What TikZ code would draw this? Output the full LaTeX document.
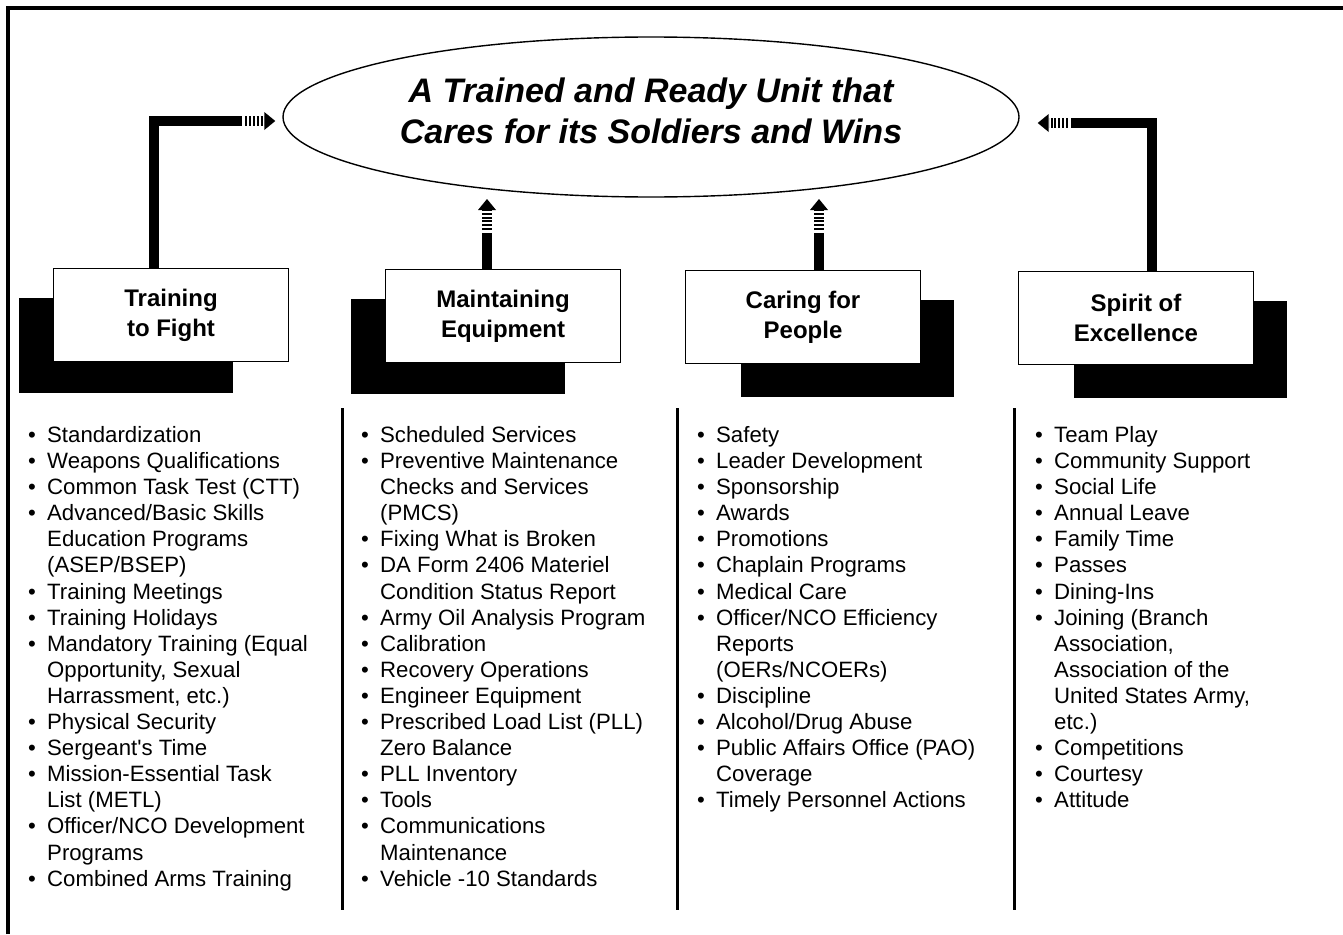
\documentclass[tikz,border=0pt]{standalone}
\usepackage{fontspec}
\setmainfont{Liberation Sans}
\usepackage{tikz}
\usetikzlibrary{arrows.meta,shapes.geometric,backgrounds}

\begin{document}
\begin{tikzpicture}[x=1pt,y=-1pt,
    goal/.style={ellipse,draw,line width=1.4pt,inner sep=0pt,minimum width=736pt,minimum height=160pt},
    title/.style={align=center,inner sep=0pt,font=\fontsize{34}{41}\selectfont\bfseries\itshape},
    pillar/.style={rectangle,draw,line width=1.6pt,fill=white,inner sep=0pt,minimum width=235pt,
      minimum height=93pt,align=center,font=\fontsize{24}{30}\selectfont\bfseries},
    bar/.style={line width=10pt},
    fade/.style={line width=10pt,dash pattern=on 2pt off 1.8pt,-{Triangle[length=11pt,width=18pt,line width=0pt]}},
    list/.style={anchor=north west,inner sep=0pt,font=\fontsize{22.2}{26.1}\selectfont},
    frame/.style={line width=4pt},
    rule/.style={line width=3pt}]

	\useasboundingbox (0,0) rectangle (1343,934);
	\draw[frame] (8,934) -- (8,8) -- (1343,8);

	\node[goal] (goal) at (651,117) {};
	\node[title] (motto) at ([yshift=6pt]goal.center) {A Trained and Ready Unit that\\Cares for its Soldiers and Wins};

	\node[pillar] (train) at (171,315) {Training\\to Fight};
	\node[pillar] (maint) at (503,316) {Maintaining\\Equipment};
	\node[pillar] (care) at (803,317) {Caring for\\People};
	\node[pillar] (spirit) at (1136,318) {Spirit of\\Excellence};

	\begin{scope}[on background layer]
	\fill ([shift={(-34,30)}]train.north west) rectangle ([shift={(-56,31)}]train.south east);
	\fill ([shift={(-34,30)}]maint.north west) rectangle ([shift={(-56,31)}]maint.south east);
	\fill ([shift={(56,30)}]care.north west) rectangle ([shift={(33,33)}]care.south east);
	\fill ([shift={(56,30)}]spirit.north west) rectangle ([shift={(33,33)}]spirit.south east);
	\end{scope}

	\coordinate (tA) at ([xshift=-7pt,yshift=-4pt]goal.west);
	\coordinate (tB) at (487,199);
	\coordinate (tC) at (819,199);
	\coordinate (tD) at ([xshift=18pt,yshift=-6pt]goal.east);

	\draw[bar] ([xshift=-17pt]train.north) |- ([xshift=-33pt]tA);
	\draw[fade] ([xshift=-30pt]tA) -- (tA);
	\draw[bar] (maint.north -| tB) -- ([yshift=-34pt]tB);
	\draw[fade] ([yshift=-31pt]tB) -- (tB);
	\draw[bar] (care.north -| tC) -- ([yshift=-34pt]tC);
	\draw[fade] ([yshift=-31pt]tC) -- (tC);
	\draw[bar] ([xshift=16pt]spirit.north) |- ([xshift=33pt]tD);
	\draw[fade] ([xshift=30pt]tD) -- (tD);

	\draw[rule] (342.5,408) -- (342.5,910);
	\draw[rule] (677.5,408) -- (677.5,910);
	\draw[rule] (1014,408) -- (1014,910);

	\node[list] (l1) at (28,424) {\begin{tabular}{@{}p{19pt}@{}l@{}}
	\textbullet & Standardization\\
	\textbullet & Weapons Qualifications\\
	\textbullet & Common Task Test (CTT)\\
	\textbullet & Advanced/Basic Skills\\
	 & Education Programs\\
	 & (ASEP/BSEP)\\
	\textbullet & Training Meetings\\
	\textbullet & Training Holidays\\
	\textbullet & Mandatory Training (Equal\\
	 & Opportunity, Sexual\\
	 & Harrassment, etc.)\\
	\textbullet & Physical Security\\
	\textbullet & Sergeant\textquotesingle s Time\\
	\textbullet & Mission-Essential Task\\
	 & List (METL)\\
	\textbullet & Officer/NCO Development\\
	 & Programs\\
	\textbullet & Combined Arms Training
	\end{tabular}};

	\node[list] (l2) at (361,424) {\begin{tabular}{@{}p{19pt}@{}l@{}}
	\textbullet & Scheduled Services\\
	\textbullet & Preventive Maintenance\\
	 & Checks and Services\\
	 & (PMCS)\\
	\textbullet & Fixing What is Broken\\
	\textbullet & DA Form 2406 Materiel\\
	 & Condition Status Report\\
	\textbullet & Army Oil Analysis Program\\
	\textbullet & Calibration\\
	\textbullet & Recovery Operations\\
	\textbullet & Engineer Equipment\\
	\textbullet & Prescribed Load List (PLL)\\
	 & Zero Balance\\
	\textbullet & PLL Inventory\\
	\textbullet & Tools\\
	\textbullet & Communications\\
	 & Maintenance\\
	\textbullet & Vehicle -10 Standards
	\end{tabular}};

	\node[list] (l3) at (697,424) {\begin{tabular}{@{}p{19pt}@{}l@{}}
	\textbullet & Safety\\
	\textbullet & Leader Development\\
	\textbullet & Sponsorship\\
	\textbullet & Awards\\
	\textbullet & Promotions\\
	\textbullet & Chaplain Programs\\
	\textbullet & Medical Care\\
	\textbullet & Officer/NCO Efficiency\\
	 & Reports\\
	 & (OERs/NCOERs)\\
	\textbullet & Discipline\\
	\textbullet & Alcohol/Drug Abuse\\
	\textbullet & Public Affairs Office (PAO)\\
	 & Coverage\\
	\textbullet & Timely Personnel Actions
	\end{tabular}};

	\node[list] (l4) at (1035,424) {\begin{tabular}{@{}p{19pt}@{}l@{}}
	\textbullet & Team Play\\
	\textbullet & Community Support\\
	\textbullet & Social Life\\
	\textbullet & Annual Leave\\
	\textbullet & Family Time\\
	\textbullet & Passes\\
	\textbullet & Dining-Ins\\
	\textbullet & Joining (Branch\\
	 & Association,\\
	 & Association of the\\
	 & United States Army,\\
	 & etc.)\\
	\textbullet & Competitions\\
	\textbullet & Courtesy\\
	\textbullet & Attitude
	\end{tabular}};

\end{tikzpicture}
\end{document}
